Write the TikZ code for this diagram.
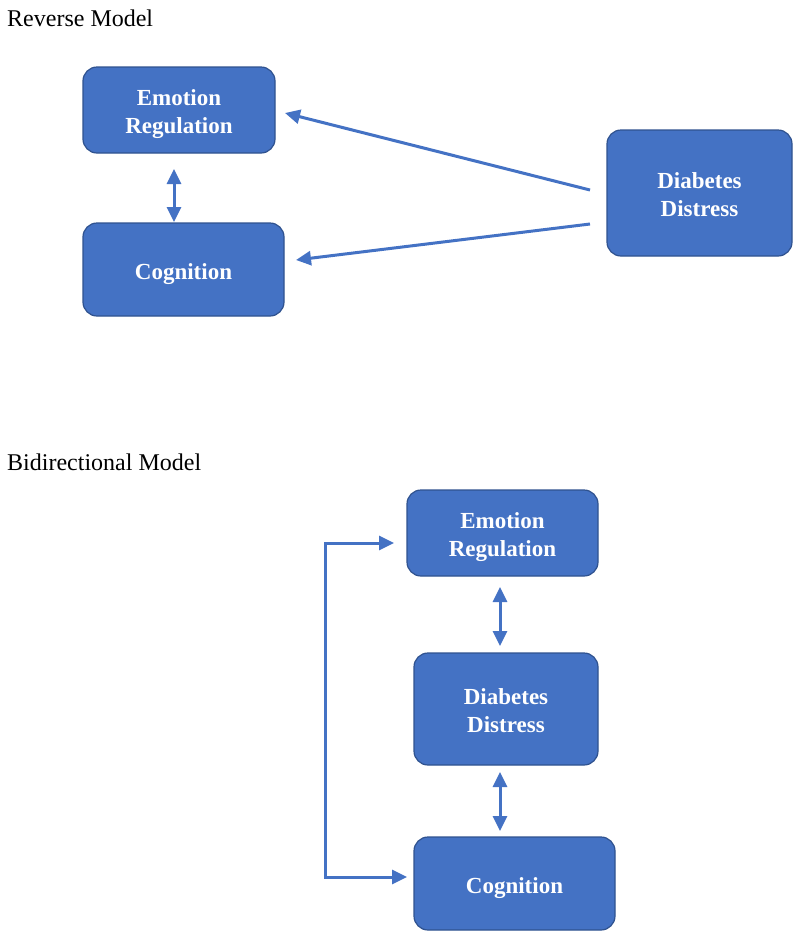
\documentclass[tikz,border=0pt]{standalone}
\usepackage{fontspec}
\setmainfont{Liberation Serif}
\usetikzlibrary{arrows.meta}
\definecolor{boxfill}{HTML}{4472C4}
\definecolor{boxline}{HTML}{2F528F}
\newcommand{\boxtext}[1]{\raisebox{-4pt}[\height][\depth]{\begin{tabular}{@{}c@{}}#1\end{tabular}}}
\tikzset{
  box/.style={draw=boxline, line width=1.2pt, fill=boxfill, rounded corners=14pt,
    text=white, font=\fontsize{23}{28}\selectfont\bfseries, inner sep=0pt},
  conn/.style={draw=boxfill, line width=3pt, arrows={-Triangle[length=15pt,width=14pt]}},
  biconn/.style={draw=boxfill, line width=3pt, arrows={Triangle[length=15pt,width=14pt]-Triangle[length=15pt,width=14pt]}},
  title/.style={anchor=base west, font=\fontsize{24}{28}\selectfont, inner sep=0pt}
}
\begin{document}
\begin{tikzpicture}[x=1pt,y=-1pt]
\useasboundingbox (0,0) rectangle (800,938);
\node[title] (t1) at (7,26) {Reverse Model};
\node[title] (t2) at (7,470) {Bidirectional Model};
% Reverse model
\node[box, minimum width=192pt, minimum height=86pt] (er1) at (179,110) {\boxtext{Emotion\\Regulation}};
\node[box, minimum width=201pt, minimum height=93pt] (cg1) at (183.5,269.5) {\boxtext{Cognition}};
\node[box, minimum width=185pt, minimum height=126pt] (dd1) at (699.5,193) {\boxtext{Diabetes\\Distress}};
\coordinate (a1s) at (590,190);
\coordinate (a1e) at (285,113);
\coordinate (a2s) at (590,224);
\coordinate (a2e) at (296,260);
\draw[conn] (a1s) -- (a1e);
\draw[conn] (a2s) -- (a2e);
\coordinate (v1s) at (174,169);
\coordinate (v1e) at (174,222);
\draw[biconn] (v1s) -- (v1e);
% Bidirectional model
\node[box, minimum width=191pt, minimum height=86pt] (er2) at (502.5,533) {\boxtext{Emotion\\Regulation}};
\node[box, minimum width=184pt, minimum height=112pt] (dd2) at (506,709) {\boxtext{Diabetes\\Distress}};
\node[box, minimum width=201pt, minimum height=93pt] (cg2) at (514.5,883.5) {\boxtext{Cognition}};
\coordinate (v2s) at (500,587);
\coordinate (v2e) at (500,646);
\draw[biconn] (v2s) -- (v2e);
\coordinate (v3s) at (500,772);
\coordinate (v3e) at (500,831);
\draw[biconn] (v3s) -- (v3e);
\coordinate (e1) at (394,543);
\coordinate (e2) at (325,543);
\coordinate (e3) at (325,877);
\coordinate (e4) at (407,877);
\draw[biconn] (e1) -- (e2) -- (e3) -- (e4);
\end{tikzpicture}
\end{document}
